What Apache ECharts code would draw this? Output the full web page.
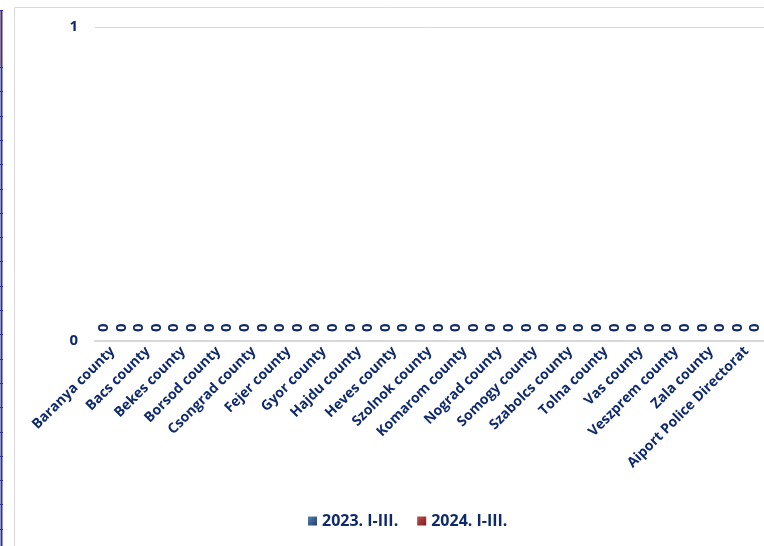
<!DOCTYPE html>
<html><head><meta charset="utf-8">
<script src="https://cdn.jsdelivr.net/npm/echarts@6/dist/echarts.min.js"></script>
<style>html,body{margin:0;padding:0;background:#fff}#c{width:764px;height:546px}</style>
</head><body><div id="c"></div>
<script>
const categories = ["Baranya county","Bacs county","Bekes county","Borsod county","Csongrad county","Fejer county","Gyor county","Hajdu county","Heves county","Szolnok county","Komarom county","Nograd county","Somogy county","Szabolcs county","Tolna county","Vas county","Veszprem county","Zala county","Aiport Police Directorat"];
const series2023 = [0,0,0,0,0,0,0,0,0,0,0,0,0,0,0,0,0,0,0];
const series2024 = [0,0,0,0,0,0,0,0,0,0,0,0,0,0,0,0,0,0,0];
const seriesNames = ["2023. I-III.","2024. I-III."];
const yTicks = [0,1];

const navy = '#0f2a6b';
const font = '"Open Sans", Lato, sans-serif';
const chart = echarts.init(document.getElementById('c'));

const deco = [];
deco.push({type:'rect', shape:{x:0,y:11,width:2,height:55}, style:{fill:'#f6c9a0'}, silent:true});
deco.push({type:'line', shape:{x1:1.5,y1:10,x2:1.5,y2:546}, style:{stroke:'#3030a0',lineWidth:2}, silent:true});
deco.push({type:'line', shape:{x1:0,y1:10.5,x2:3,y2:10.5}, style:{stroke:'#3030a0',lineWidth:1}, silent:true});
for (let k=0;k<20;k++){
  const y = Math.round(67 + k*24.3)+0.5;
  deco.push({type:'line', shape:{x1:0,y1:y,x2:3,y2:y}, style:{stroke:'#3030a0',lineWidth:1}, silent:true});
}
deco.push({type:'rect', shape:{x:14.5,y:7.5,width:800,height:600}, style:{fill:'none',stroke:'#d9d9d9',lineWidth:1}, silent:true});

const lbl = {show:true, position:'top', distance:9, rotate:90, align:'left', verticalAlign:'middle',
  color:navy, fontFamily:font, fontWeight:'bold', fontSize:15, formatter: p => String(p.value)};

chart.setOption({
  animation:false,
  backgroundColor:'#fff',
  graphic: deco,
  grid:{left:95, right:-5, top:27, bottom:205, containLabel:false},
  legend:{
    bottom:12, left:303, itemWidth:9, itemHeight:9, itemGap:19,
    textStyle:{color:navy, fontFamily:font, fontWeight:'bold', fontSize:16},
    data: seriesNames.map(n=>({name:n, icon:'rect'}))
  },
  xAxis:{
    type:'category', data:categories,
    axisLine:{lineStyle:{color:'#d9d9d9', width:2}},
    axisTick:{show:false},
    axisLabel:{rotate:45, interval:0, margin:8, color:navy, fontFamily:font, fontWeight:'bold', fontSize:14}
  },
  yAxis:{
    type:'value', min:yTicks[0], max:yTicks[yTicks.length-1], interval:1,
    axisLine:{show:false}, axisTick:{show:false},
    splitLine:{lineStyle:{color:'#d9d9d9', width:1}},
    axisLabel:{margin:17, color:navy, fontFamily:font, fontWeight:'bold', fontSize:15}
  },
  series:[
    {name:seriesNames[0], type:'bar', data:series2023, barGap:'0%', barCategoryGap:'0%',
     itemStyle:{color:new echarts.graphic.LinearGradient(0,0,1,1,[{offset:0,color:'#5a7fb0'},{offset:1,color:'#1f3f70'}])},
     label:lbl},
    {name:seriesNames[1], type:'bar', data:series2024, barGap:'0%', barCategoryGap:'0%',
     itemStyle:{color:new echarts.graphic.LinearGradient(0,0,1,1,[{offset:0,color:'#c05050'},{offset:1,color:'#7a1e1e'}])},
     label:lbl}
  ]
});
</script></body></html>
